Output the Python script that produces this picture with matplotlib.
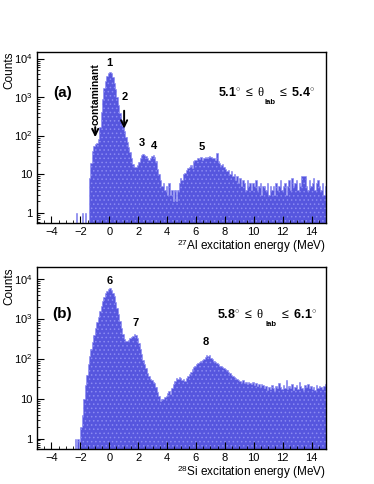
import matplotlib
matplotlib.use('Agg')
import matplotlib.pyplot as plt
from matplotlib.ticker import MultipleLocator, LogLocator, NullFormatter
import numpy as np

plt.rcParams['font.family'] = ['Liberation Sans', 'DejaVu Sans']
plt.rcParams['mathtext.fontset'] = 'custom'
plt.rcParams['mathtext.rm'] = 'Liberation Sans'
plt.rcParams['mathtext.bf'] = 'Liberation Sans:bold'
plt.rcParams['mathtext.it'] = 'Liberation Serif'
plt.rcParams['hatch.linewidth'] = 0.6

# bin edges: -5 .. 15 MeV, 0.1 MeV wide
e_min, e_max, e_step = -5.0, 15.0, 0.1

# (a) 27Al, 5.1 - 5.4 deg ; one row = 1 MeV (10 bins)
counts_al = [
    0, 0, 0, 0, 0, 0, 0, 0, 0, 0,
    0, 0, 0, 0, 0, 0, 0, 0, 0, 0,
    0, 0, 0, 0, 0, 0, 0, 1, 0, 0,
    0, 1, 0, 1, 0, 0, 8, 20, 40, 55,
    62, 66, 85, 170, 420, 900, 1700, 2600, 3500, 4200,
    4600, 4200, 3300, 2400, 1600, 1000, 640, 400, 260, 180,
    130, 95, 70, 52, 38, 26, 19, 16, 16, 18,
    21, 26, 31, 33, 32, 30, 27, 24, 26, 30,
    31, 29, 22, 14, 10, 7, 5, 6, 4, 5,
    3, 6, 3, 4, 2, 4, 2, 4, 6, 8,
    7, 10, 11, 13, 15, 16, 18, 15, 22, 24,
    23, 26, 25, 28, 24, 27, 28, 26, 29, 30,
    28, 26, 27, 24, 35, 22, 20, 18, 19, 16,
    14, 12, 13, 10, 12, 9, 10, 7, 9, 6,
    8, 5, 7, 6, 4, 7, 5, 6, 4, 6,
    5, 7, 4, 5, 6, 3, 5, 5, 4, 6,
    3, 5, 4, 5, 3, 6, 4, 5, 7, 4,
    5, 6, 3, 5, 7, 4, 8, 5, 6, 7,
    4, 6, 5, 9, 9, 9, 5, 4, 7, 5,
    6, 8, 4, 6, 7, 5, 4, 6, 3, 5,
]

# (b) 28Si, 5.8 - 6.1 deg
counts_si = [
    0, 0, 0, 0, 0, 0, 0, 0, 0, 0,
    0, 0, 0, 0, 0, 0, 0, 0, 0, 0,
    0, 0, 0, 0, 0, 0, 1, 0, 1, 0,
    2, 4, 10, 22, 40, 75, 120, 180, 270, 400,
    600, 820, 1100, 1550, 2100, 2800, 3600, 4400, 5000, 5500,
    5800, 5400, 4500, 3700, 2700, 1900, 1300, 900, 600, 420,
    320, 280, 280, 300, 330, 350, 380, 410, 400, 330,
    250, 180, 130, 95, 75, 58, 45, 37, 32, 30,
    27, 25, 20, 15, 12, 9, 10, 10, 11, 12,
    14, 16, 13, 19, 24, 28, 34, 31, 36, 33,
    30, 31, 28, 34, 38, 41, 47, 55, 62, 68,
    74, 78, 82, 88, 95, 100, 110, 125, 118, 122,
    105, 98, 90, 84, 78, 73, 68, 66, 62, 58,
    55, 52, 48, 45, 40, 38, 36, 34, 31, 30,
    28, 27, 29, 25, 27, 24, 26, 25, 23, 26,
    22, 25, 21, 24, 20, 23, 22, 19, 21, 17,
    20, 18, 22, 19, 16, 21, 19, 25, 20, 18,
    22, 19, 30, 18, 21, 19, 23, 17, 20, 22,
    18, 27, 21, 19, 17, 22, 20, 23, 19, 21,
    18, 20, 17, 22, 19, 21, 20, 18, 21, 24,
]

peaks_al = [('1', 0.0, 7900), ('2', 1.1, 1000), ('3', 2.25, 66), ('4', 3.1, 55), ('5', 6.4, 52)]
peaks_si = [('6', 0.0, 8900), ('7', 1.85, 790), ('8', 6.7, 260)]

fill_col = '#5656de'
edge_col = '#8a8af2'

fig = plt.figure(figsize=(3.74, 4.84), dpi=100)
ax_a = fig.add_axes([0.0989, 0.5393, 0.7727, 0.3533])
ax_b = fig.add_axes([0.0989, 0.0723, 0.7727, 0.3760])


def draw_hist(ax, counts, ymax, xlabel):
    edges = np.linspace(e_min, e_max, len(counts) + 1)
    ymin = 0.55
    vals = np.clip(np.array(counts, dtype=float), ymin, None)
    ax.stairs(vals, edges, fill=True, baseline=ymin, facecolor=fill_col,
              edgecolor=edge_col, hatch='....', linewidth=0.4)
    ax.set_yscale('log')
    ax.set_xlim(e_min, e_max)
    ax.set_ylim(ymin, ymax)
    ax.set_yticks([1, 10, 100, 1000, 10000],
                  ['1', '10', '10$^2$', '10$^3$', '10$^4$'])
    ax.yaxis.set_minor_locator(LogLocator(base=10, subs=np.arange(2, 10)))
    ax.yaxis.set_minor_formatter(NullFormatter())
    ax.xaxis.set_major_locator(MultipleLocator(2))
    ax.xaxis.set_minor_locator(MultipleLocator(0.5))
    ax.tick_params(which='both', direction='in', labelsize=8, top=False, right=False)
    ax.tick_params(which='major', length=5, width=0.8, pad=3)
    ax.tick_params(which='minor', length=2.5, width=0.6)
    for s in ax.spines.values():
        s.set_linewidth(1.0)
    ax.set_ylabel('Counts', fontsize=8.5, loc='top')
    ax.yaxis.set_label_coords(-0.075, 1.0)
    ax.set_xlabel(xlabel, fontsize=8.5, loc='right', labelpad=0)


def angle_label(ax, x0, y0, lo, hi, x_lab, y_lab, x_hi):
    ax.text(x0, y0, r'$\mathbf{%s}^{\circ}\ \leq\ \theta$' % lo, fontsize=9,
            ha='left', va='center')
    ax.text(x_lab, y_lab, 'lab', fontsize=5.5, fontweight='bold', ha='center', va='center')
    ax.text(x_hi, y0, r'$\leq\ \mathbf{%s}^{\circ}$' % hi, fontsize=9,
            ha='left', va='center')


draw_hist(ax_a, counts_al, 15000, r'$^{27}$Al excitation energy (MeV)')
draw_hist(ax_b, counts_si, 20000, r'$^{28}$Si excitation energy (MeV)')

for ax, peaks in ((ax_a, peaks_al), (ax_b, peaks_si)):
    for lab, x, y in peaks:
        ax.text(x, y, lab, fontsize=8, fontweight='bold', ha='center', va='center')

ax_a.text(-3.25, 1330, '(a)', fontsize=11, fontweight='bold', ha='center', va='center')
ax_b.text(-3.25, 1300, '(b)', fontsize=11, fontweight='bold', ha='center', va='center')

angle_label(ax_a, 7.5, 1330, '5.1', '5.4', 11.1, 720, 11.7)
angle_label(ax_b, 7.45, 1310, '5.8', '6.1', 11.17, 740, 11.8)

# arrows in (a)
arrow_kw = dict(arrowstyle='->,head_length=0.45,head_width=0.22', lw=1.4, color='k')
ax_a.annotate('', xy=(-0.97, 78), xytext=(-0.97, 200), arrowprops=arrow_kw)
ax_a.annotate('', xy=(1.03, 130), xytext=(1.03, 530), arrowprops=arrow_kw)
ax_a.text(-0.93, 1200, 'contaminant', fontsize=7.5, fontweight='bold', rotation=90,
          ha='center', va='center')

fig.savefig('out.png', dpi=100)
